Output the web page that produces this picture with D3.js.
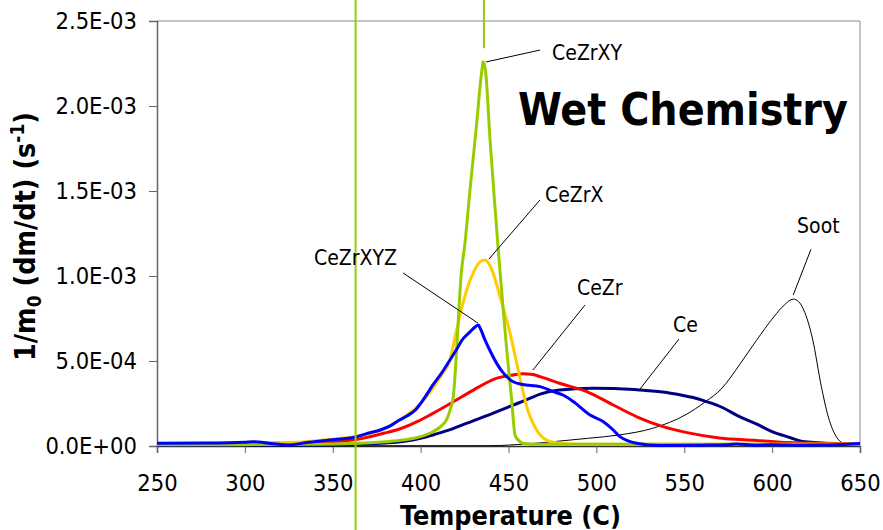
<!DOCTYPE html>
<html>
<head>
<meta charset="utf-8">
<script src="https://cdn.jsdelivr.net/npm/d3@7"></script>
<style>
  html, body { margin: 0; padding: 0; background: #fff; }
  svg { display: block; }
  text { font-family: 'DejaVu Sans Condensed', 'DejaVu Sans', sans-serif; font-stretch: condensed; fill: #000; }
</style>
</head>
<body>
<svg id="chart" width="883" height="530"></svg>
<script>
// Temperature-programmed oxidation of soot: normalised mass-loss rate
// 1/m0 (dm/dt), stored in units of 1e-4 s^-1, against temperature (C).

const xTicks = [250, 300, 350, 400, 450, 500, 550, 600, 650];
const yTicks = [0, 5, 10, 15, 20, 25];

const soot = [[250,0],[440,0.02],[460,0.12],[475,0.25],[495,0.45],[513,0.65],[532,1.04],[551,1.85],[562,2.6],[571,3.35],[582,4.86],[591,6.2],[601,7.6],[607,8.3],[612,8.64],[615,8.5],[618,8.0],[623,6.3],[628,3.5],[632,1.7],[636.5,0.55],[640.5,0.15],[645,0.04],[650,0.04]];

const ce = [[250,0.05],[340,0.06],[360,0.1],[380,0.18],[390,0.27],[400,0.45],[407,0.65],[415,0.9],[426,1.33],[441,1.92],[455,2.5],[462,2.8],[468,3.05],[479,3.29],[498,3.39],[510,3.38],[525,3.29],[540,3.15],[548,3.0],[555,2.85],[563,2.6],[572,2.25],[580,1.8],[591,1.3],[600,0.85],[610,0.5],[616,0.3],[625,0.2],[638,0.1],[650,0.08]];

const ceZr = [[250,0.15],[330,0.16],[350,0.25],[363,0.38],[379,0.75],[388,1.0],[394,1.24],[398,1.43],[407,1.92],[418.6,2.6],[430,3.29],[443,3.98],[452.7,4.18],[458,4.25],[464,4.2],[468,4.08],[479,3.69],[494.5,3.2],[509.6,2.41],[523,1.72],[538,1.14],[551,0.8],[570,0.47],[591,0.33],[610,0.2],[629,0.16],[650,0.12]];

const ceZrX = [[250,0.15],[300,0.18],[330,0.22],[345,0.35],[355,0.45],[365,0.6],[378,0.95],[388,1.53],[398,2.31],[407,3.39],[412,4.2],[416.7,5.06],[420,6.6],[426.2,9.18],[430,10.2],[434,10.85],[436.6,10.94],[440,10.5],[445.2,8.78],[450.9,6.63],[456.5,4.0],[460.4,2.31],[466,0.94],[471.7,0.35],[479.3,0.16],[490,0.1],[650,0.1]];

const ceZrXY = [[250,0.08],[300,0.08],[340,0.1],[360,0.14],[380,0.25],[390,0.35],[400,0.55],[407,0.84],[412,1.2],[415,1.6],[417,2.2],[418.6,2.9],[420,4.8],[421.5,7.5],[423,10],[425.2,11.9],[428.1,15.06],[431.9,18.98],[434.5,21.8],[435.7,22.6],[437,22.0],[439.5,18],[442.3,14.07],[444.2,11.5],[447,8.0],[449,5.65],[451.8,2.7],[453.7,0.65],[456,0.3],[458.4,0.15],[470,0.1],[650,0.1]];

const ceZrXYZ = [[250,0.16],[280,0.17],[300,0.22],[305,0.25],[315,0.15],[325,0.06],[335,0.2],[348,0.35],[363,0.53],[370,0.75],[377,0.94],[383,1.2],[388,1.53],[392,1.75],[397,2.12],[402,2.8],[407,3.59],[412,4.3],[416.7,5.06],[420,5.6],[424.3,6.33],[428,6.7],[431,7.0],[432.8,7.12],[434,6.9],[436.6,6.24],[440,5.5],[443.3,4.86],[447,4.3],[452.7,3.78],[458,3.62],[468,3.49],[475.5,3.2],[481,3.0],[487,2.6],[496.4,1.82],[504,1.43],[509,1.0],[513.4,0.55],[518,0.3],[522.9,0.16],[536,0.03],[560,0.05],[575,0.08],[580,0.12],[590,0.05],[600,0.08],[615,0.05],[630,0.06],[645,0.12],[650,0.15]];

// drawing order: later series sit on top
const series = [
  { name: "Soot",    data: soot,    color: "#000000", width: 1 },
  { name: "Ce",      data: ce,      color: "#000080", width: 3 },
  { name: "CeZr",    data: ceZr,    color: "#ff0000", width: 3 },
  { name: "CeZrX",   data: ceZrX,   color: "#ffcc00", width: 3 },
  { name: "CeZrXY",  data: ceZrXY,  color: "#99cc00", width: 3 },
  { name: "CeZrXYZ", data: ceZrXYZ, color: "#0000ff", width: 3 }
];

// callouts: text anchor and leader line, all in data units
const callouts = [
  { text: "CeZrXY",  t: 474.8, v: 22.7,  from: [467.9, 23.29], to: [437.2, 22.59] },
  { text: "CeZrX",   t: 470.8, v: 14.35, from: [467.9, 14.47], to: [438.9, 11.0] },
  { text: "CeZrXYZ", t: 339.3, v: 10.65, from: [390.0, 10.18], to: [432.6, 7.23] },
  { text: "CeZr",    t: 489.0, v: 8.88,  from: [493.5, 8.29],  to: [463.9, 4.47] },
  { text: "Ce",      t: 543.6, v: 6.71,  from: [547.0, 6.29],  to: [524.8, 3.35] },
  { text: "Soot",    t: 614.2, v: 12.53, from: [622.1, 11.57], to: [612.0, 8.88] }
];

// onset / peak marker temperatures
const markerTemps = [363, 436];
const markerTops = [null, 23.4];

const svg = d3.select("#chart");
const x = d3.scaleLinear().domain([250, 650]).range([157, 860]);
const y = d3.scaleLinear().domain([0, 25]).range([446, 21]);

function sci(v) {
  const val = v * 1e-4;
  if (val === 0) return "0.0E+00";
  const e = Math.floor(Math.log10(val) + 1e-9);
  const m = val / Math.pow(10, e);
  const sign = e < 0 ? "-" : "+";
  return m.toFixed(1) + "E" + sign + String(Math.abs(e)).padStart(2, "0");
}

// scale a text block uniformly so that its advance equals a target width
function fitScale(sel, target) {
  const len = sel.node().getComputedTextLength();
  return target / len;
}

// plot frame (top and right)
svg.append("path")
  .attr("d", `M${x(250)},${y(25)}H${x(650)}V${y(0)}`)
  .attr("fill", "none").attr("stroke", "#8c8c8c").attr("stroke-width", 1);

// y axis
const yAxis = svg.append("g").attr("transform", `translate(${x(250)},0)`)
  .call(d3.axisLeft(y).tickValues(yTicks).tickFormat(sci).tickSize(8).tickPadding(12));
yAxis.select(".domain").attr("stroke", "#666").attr("stroke-width", 1.5);
yAxis.selectAll(".tick line").attr("stroke", "#666");
yAxis.selectAll("text").attr("font-size", 23.5).attr("fill", "#000");

// x axis
const xAxis = svg.append("g").attr("transform", `translate(0,${y(0)})`)
  .call(d3.axisBottom(x).tickValues(xTicks).tickFormat(d3.format("d")).tickSize(7).tickPadding(21));
xAxis.select(".domain").attr("stroke", "#333").attr("stroke-width", 1.5);
xAxis.selectAll(".tick line").attr("stroke", "#666");
xAxis.selectAll("text").attr("font-size", 23.5).attr("fill", "#000");

// curves
const line = d3.line().x(d => x(d[0])).y(d => y(d[1])).curve(d3.curveMonotoneX);
svg.append("g").selectAll("path").data(series).join("path")
  .attr("d", d => line(d.data))
  .attr("fill", "none")
  .attr("stroke", d => d.color)
  .attr("stroke-width", d => d.width)
  .attr("stroke-linejoin", "round");

// vertical markers
svg.append("g").selectAll("line").data(markerTemps).join("line")
  .attr("x1", d => x(d)).attr("x2", d => x(d))
  .attr("y1", 0)
  .attr("y2", (d, i) => markerTops[i] === null ? 530 : y(markerTops[i]))
  .attr("stroke", "#99cc00").attr("stroke-width", 2);

// callouts
const cg = svg.append("g");
cg.selectAll("line").data(callouts).join("line")
  .attr("x1", d => x(d.from[0])).attr("y1", d => y(d.from[1]))
  .attr("x2", d => x(d.to[0])).attr("y2", d => y(d.to[1]))
  .attr("stroke", "#000").attr("stroke-width", 1);
cg.selectAll("text").data(callouts).join("text")
  .attr("x", d => x(d.t)).attr("y", d => y(d.v))
  .attr("font-size", 21)
  .text(d => d.text);

// title
const title = svg.append("text")
  .attr("font-size", 40).attr("font-weight", "bold")
  .text("Wet Chemistry");
const kt = fitScale(title, 330);
title.attr("transform", `translate(518,125) scale(${kt})`);

// axis titles
const xt = svg.append("text")
  .attr("text-anchor", "middle")
  .attr("font-size", 24).attr("font-weight", "bold")
  .text("Temperature (C)");
const kx = fitScale(xt, 221);
xt.attr("transform", `translate(510.5,${505 + 24 * 0.73 * kx}) scale(${kx})`);

const yt = svg.append("text")
  .attr("text-anchor", "start")
  .attr("font-size", 24).attr("font-weight", "bold");
yt.append("tspan").text("1/m");
yt.append("tspan").attr("font-size", 16).attr("dy", 5).text("0");
yt.append("tspan").attr("dy", -5).text(" (dm/dt) (s");
yt.append("tspan").attr("font-size", 16).attr("dy", -9).text("-1");
yt.append("tspan").attr("dy", 9).text(")");
const ky = fitScale(yt, 249);
yt.attr("transform", `translate(35,361) rotate(-90) scale(${ky})`);
</script>
</body>
</html>
